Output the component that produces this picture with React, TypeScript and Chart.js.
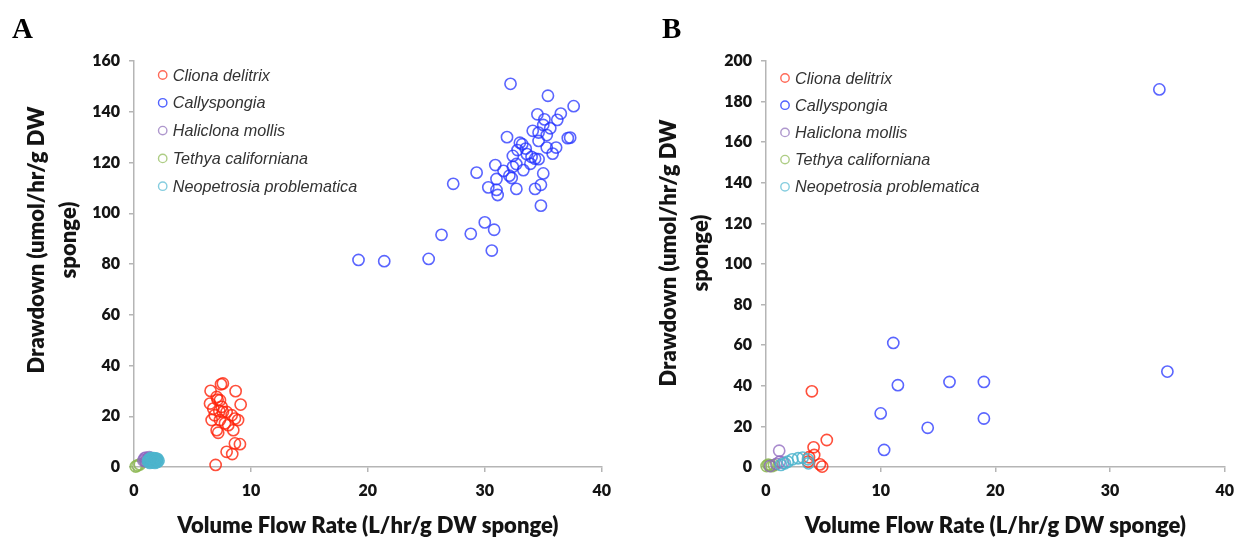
import React, { useEffect, useRef } from 'react';
import { Chart, registerables } from 'chart.js';

Chart.register(...registerables);

// ---------- Data ----------
const seriesNames = ['Cliona delitrix', 'Callyspongia', 'Haliclona mollis', 'Tethya californiana', 'Neopetrosia problematica'];
const xAxisTitle = 'Volume Flow Rate (L/hr/g DW sponge)';
const yAxisTitle = ['Drawdown (umol/hr/g DW', 'sponge)'];
const xMax = 40;
const yMaxA = 160;
const yMaxB = 200;

// Panel A
const aClionaX = [7.44, 7.6, 6.55, 8.69, 7.07, 7.35, 9.12, 6.5, 6.78, 7.5, 7.92, 7.6, 8.35, 6.9, 6.64, 7.35, 8.9, 7.78, 8.63, 8.06, 7.07, 8.49, 7.2, 8.63, 9.06, 7.92, 8.4, 6.98, 7.15, 7.3];
const aClionaY = [32.6, 32.9, 30.0, 29.9, 27.6, 26.3, 24.6, 25.0, 23.0, 23.7, 21.7, 21.7, 20.4, 20.4, 18.5, 18.5, 18.5, 17.2, 19.1, 16.5, 14.5, 14.5, 13.5, 9.3, 9.0, 6.0, 5.1, 0.8, 26.5, 22.0];
const aCallyX = [32.2, 35.4, 37.6, 34.5, 36.5, 35.1, 36.2, 35.0, 35.6, 34.1, 34.6, 35.3, 31.9, 37.1, 37.3, 33.2, 34.6, 36.1, 35.3, 32.8, 32.4, 33.6, 34.0, 34.6, 35.8, 30.9, 32.7, 33.3, 32.4, 31.6, 32.1, 29.3, 35.0, 31.0, 32.3, 27.3, 30.3, 31.0, 32.7, 34.3, 34.8, 31.1, 34.8, 30.0, 26.3, 28.8, 30.8, 30.6, 25.2, 19.2, 21.4, 33.0, 33.5, 34.3, 33.9];
const aCallyY = [151, 146.3, 142.2, 139, 139.3, 137, 136.8, 134.8, 133.5, 132.5, 131.8, 130.8, 130, 129.6, 129.8, 127.2, 128.5, 125.9, 125.9, 124.9, 122.6, 123.3, 122.2, 121.3, 123.5, 119, 119.4, 117, 118.3, 116.7, 114.8, 116, 115.7, 113.5, 113.9, 111.6, 110.2, 109.2, 109.6, 109.6, 111.2, 107.2, 103, 96.4, 91.5, 91.9, 93.5, 85.3, 82, 81.6, 81.1, 127.8, 125.5, 121.5, 119.5];
const aHaliX = [0.9, 1.0, 1.1, 1.3, 0.8, 1.2, 1.4, 1.0];
const aHaliY = [3.4, 3.7, 3.2, 3.9, 2.6, 2.8, 3.5, 2.2];
const aTethX = [0.15, 0.3, 0.5];
const aTethY = [0.2, 0.6, 1.0];
const aNeoX = [1.2, 1.3, 1.4, 1.5, 1.5, 1.6, 1.7, 1.7, 1.8, 1.8, 1.9, 2.0, 2.0, 1.35, 1.55, 1.65, 1.85, 1.95, 2.1, 1.25, 1.45, 1.75];
const aNeoY = [2.2, 3.0, 2.5, 3.3, 1.8, 2.8, 2.2, 3.5, 2.9, 1.6, 2.4, 3.2, 2.0, 1.6, 2.4, 3.1, 3.4, 2.7, 2.5, 2.7, 3.6, 1.9];

// Panel B
const bClionaX = [4.0, 5.3, 4.15, 4.2, 3.75, 3.66, 4.7, 4.9];
const bClionaY = [37.3, 13.3, 9.7, 5.9, 4.8, 2.6, 1.3, 0.2];
const bCallyX = [11.1, 11.5, 16.0, 19.0, 10.0, 19.0, 14.1, 10.3, 34.3, 35.0];
const bCallyY = [61.1, 40.3, 41.9, 41.9, 26.4, 23.9, 19.3, 8.4, 186, 47];
const bHaliX = [1.15, 1.2, 1.5, 0.35, 0.9];
const bHaliY = [8.0, 2.6, 2.1, 0.5, 1.5];
const bTethX = [0.05, 0.3, 0.5, 0.7, 0.2];
const bTethY = [0.5, 0.8, 0.4, 0.9, 1.2];
const bNeoX = [2.3, 2.8, 3.2, 3.66, 1.9, 1.65, 1.3, 3.7];
const bNeoY = [3.8, 4.3, 4.6, 3.8, 2.6, 1.8, 1.0, 1.8];

// ---------- Styles ----------
const pointColors = ['rgba(255,35,10,0.8)', 'rgba(35,50,255,0.75)', 'rgba(140,100,190,0.75)', 'rgba(140,185,80,0.85)', 'rgba(75,180,205,0.85)'];
const legendColors = ['rgba(255,90,70,0.9)', 'rgba(60,80,255,0.9)', 'rgba(165,140,200,0.9)', 'rgba(165,200,120,0.9)', 'rgba(120,200,220,0.9)'];
const drawOrder = [2, 3, 1, 4, 0];
const axisColor = '#b5b5b5';
const textColor = '#141414';
const fontFamily = 'Lato, "Open Sans", sans-serif';
const heavy = 800;

const toPts = (xs: number[], ys: number[]) => xs.map((x, i) => ({ x, y: ys[i] }));

const legendPlugin = {
  id: 'customLegend',
  afterDraw(chart: any, _args: any, opts: any) {
    const { ctx, chartArea } = chart;
    ctx.save();
    seriesNames.forEach((name, i) => {
      const x = chartArea.left + opts.dx;
      const y = chartArea.top + opts.dy + i * opts.gap;
      ctx.beginPath();
      ctx.arc(x, y, 4.2, 0, Math.PI * 2);
      ctx.strokeStyle = legendColors[i];
      ctx.lineWidth = 1.4;
      ctx.stroke();
      ctx.font = 'italic 16.2px "Liberation Sans", Arial, sans-serif';
      ctx.fillStyle = '#333333';
      ctx.textBaseline = 'middle';
      ctx.textAlign = 'left';
      ctx.fillText(name, x + 10, y + 1);
    });
    ctx.restore();
  },
};

const yTitlePlugin = {
  id: 'yTitle',
  afterDraw(chart: any, _args: any, opts: any) {
    const { ctx } = chart;
    ctx.save();
    ctx.font = `${heavy} 22px ${fontFamily}`;
    ctx.fillStyle = textColor;
    ctx.textAlign = 'center';
    ctx.textBaseline = 'middle';
    yAxisTitle.forEach((line, i) => {
      ctx.save();
      ctx.translate(opts.x + i * opts.gap, opts.cy);
      ctx.rotate(-Math.PI / 2);
      ctx.fillText(line, 0, 0);
      ctx.restore();
    });
    ctx.restore();
  },
};

interface PanelProps {
  left: number;
  width: number;
  axisLeft: number;
  rightPad: number;
  yMax: number;
  series: { x: number[]; y: number[] }[];
  legendDx: number;
  legendDy: number;
  legendGap: number;
  titleCy: number;
}

function Panel(props: PanelProps) {
  const ref = useRef<HTMLCanvasElement>(null);
  useEffect(() => {
    const datasets = props.series.map((s, i) => ({
      label: seriesNames[i],
      data: toPts(s.x, s.y),
      showLine: false,
      pointRadius: 5.6,
      pointHoverRadius: 5.6,
      pointBorderWidth: 1.6,
      pointBorderColor: pointColors[i],
      pointBackgroundColor: 'rgba(0,0,0,0)',
      order: drawOrder[i],
      clip: false as any,
    }));
    const tickFont = { family: fontFamily, weight: heavy as any, size: 16 };
    const chart = new Chart(ref.current!, {
      type: 'scatter',
      data: { datasets },
      plugins: [legendPlugin, yTitlePlugin],
      options: {
        animation: false,
        responsive: false,
        devicePixelRatio: 1,
        layout: { padding: { top: 61, right: props.rightPad, bottom: 0, left: 0 } },
        plugins: {
          legend: { display: false },
          tooltip: { enabled: false },
          customLegend: { dx: props.legendDx, dy: props.legendDy, gap: props.legendGap },
          yTitle: { x: props.axisLeft - 97, gap: 32, cy: props.titleCy },
        } as any,
        scales: {
          x: {
            type: 'linear',
            min: 0,
            max: xMax,
            ticks: { stepSize: 10, font: tickFont, color: textColor, padding: 9, maxRotation: 0 },
            grid: { drawOnChartArea: false, drawTicks: true, tickLength: 5, color: axisColor, lineWidth: 1.5 },
            border: { color: axisColor, width: 1.5 },
            title: {
              display: true,
              text: xAxisTitle,
              font: { family: fontFamily, weight: heavy, size: 22, lineHeight: 1 },
              color: textColor,
              padding: { top: 0, bottom: 0 },
            },
            afterFit: (s: any) => { s.height = 70; },
          },
          y: {
            type: 'linear',
            min: 0,
            max: props.yMax,
            ticks: { stepSize: 20, font: tickFont, color: textColor, padding: 9 },
            grid: { drawOnChartArea: false, drawTicks: true, tickLength: 5, color: axisColor, lineWidth: 1.5 },
            border: { color: axisColor, width: 1.5 },
            title: { display: false },
            afterFit: (s: any) => { s.width = props.axisLeft; },
          },
        },
      } as any,
    });
    return () => chart.destroy();
  }, []);
  return (
    <div style={{ position: 'absolute', left: props.left, top: 0, width: props.width, height: 537 }}>
      <canvas ref={ref} width={props.width} height={537} style={{ display: 'block', width: props.width, height: 537 }} />
    </div>
  );
}

const panelLabelStyle: React.CSSProperties = {
  position: 'absolute',
  top: 14,
  fontFamily: '"Liberation Serif", "Times New Roman", serif',
  fontWeight: 'bold',
  fontSize: 29,
  lineHeight: '28px',
  color: '#000',
};

export default function App() {
  return (
    <div style={{ position: 'absolute', left: 0, top: 0, width: 1243, height: 537, background: '#fff', overflow: 'hidden' }}>
      <Panel
        left={0}
        width={620}
        axisLeft={134}
        rightPad={16}
        yMax={yMaxA}
        series={[
          { x: aClionaX, y: aClionaY },
          { x: aCallyX, y: aCallyY },
          { x: aHaliX, y: aHaliY },
          { x: aTethX, y: aTethY },
          { x: aNeoX, y: aNeoY },
        ]}
        legendDx={28.7}
        legendDy={14}
        legendGap={27.8}
        titleCy={240}
      />
      <Panel
        left={630}
        width={613}
        axisLeft={136}
        rightPad={15}
        yMax={yMaxB}
        series={[
          { x: bClionaX, y: bClionaY },
          { x: bCallyX, y: bCallyY },
          { x: bHaliX, y: bHaliY },
          { x: bTethX, y: bTethY },
          { x: bNeoX, y: bNeoY },
        ]}
        legendDx={19}
        legendDy={17}
        legendGap={27.2}
        titleCy={253}
      />
      <div style={{ ...panelLabelStyle, left: 12 }}>A</div>
      <div style={{ ...panelLabelStyle, left: 662 }}>B</div>
    </div>
  );
}
